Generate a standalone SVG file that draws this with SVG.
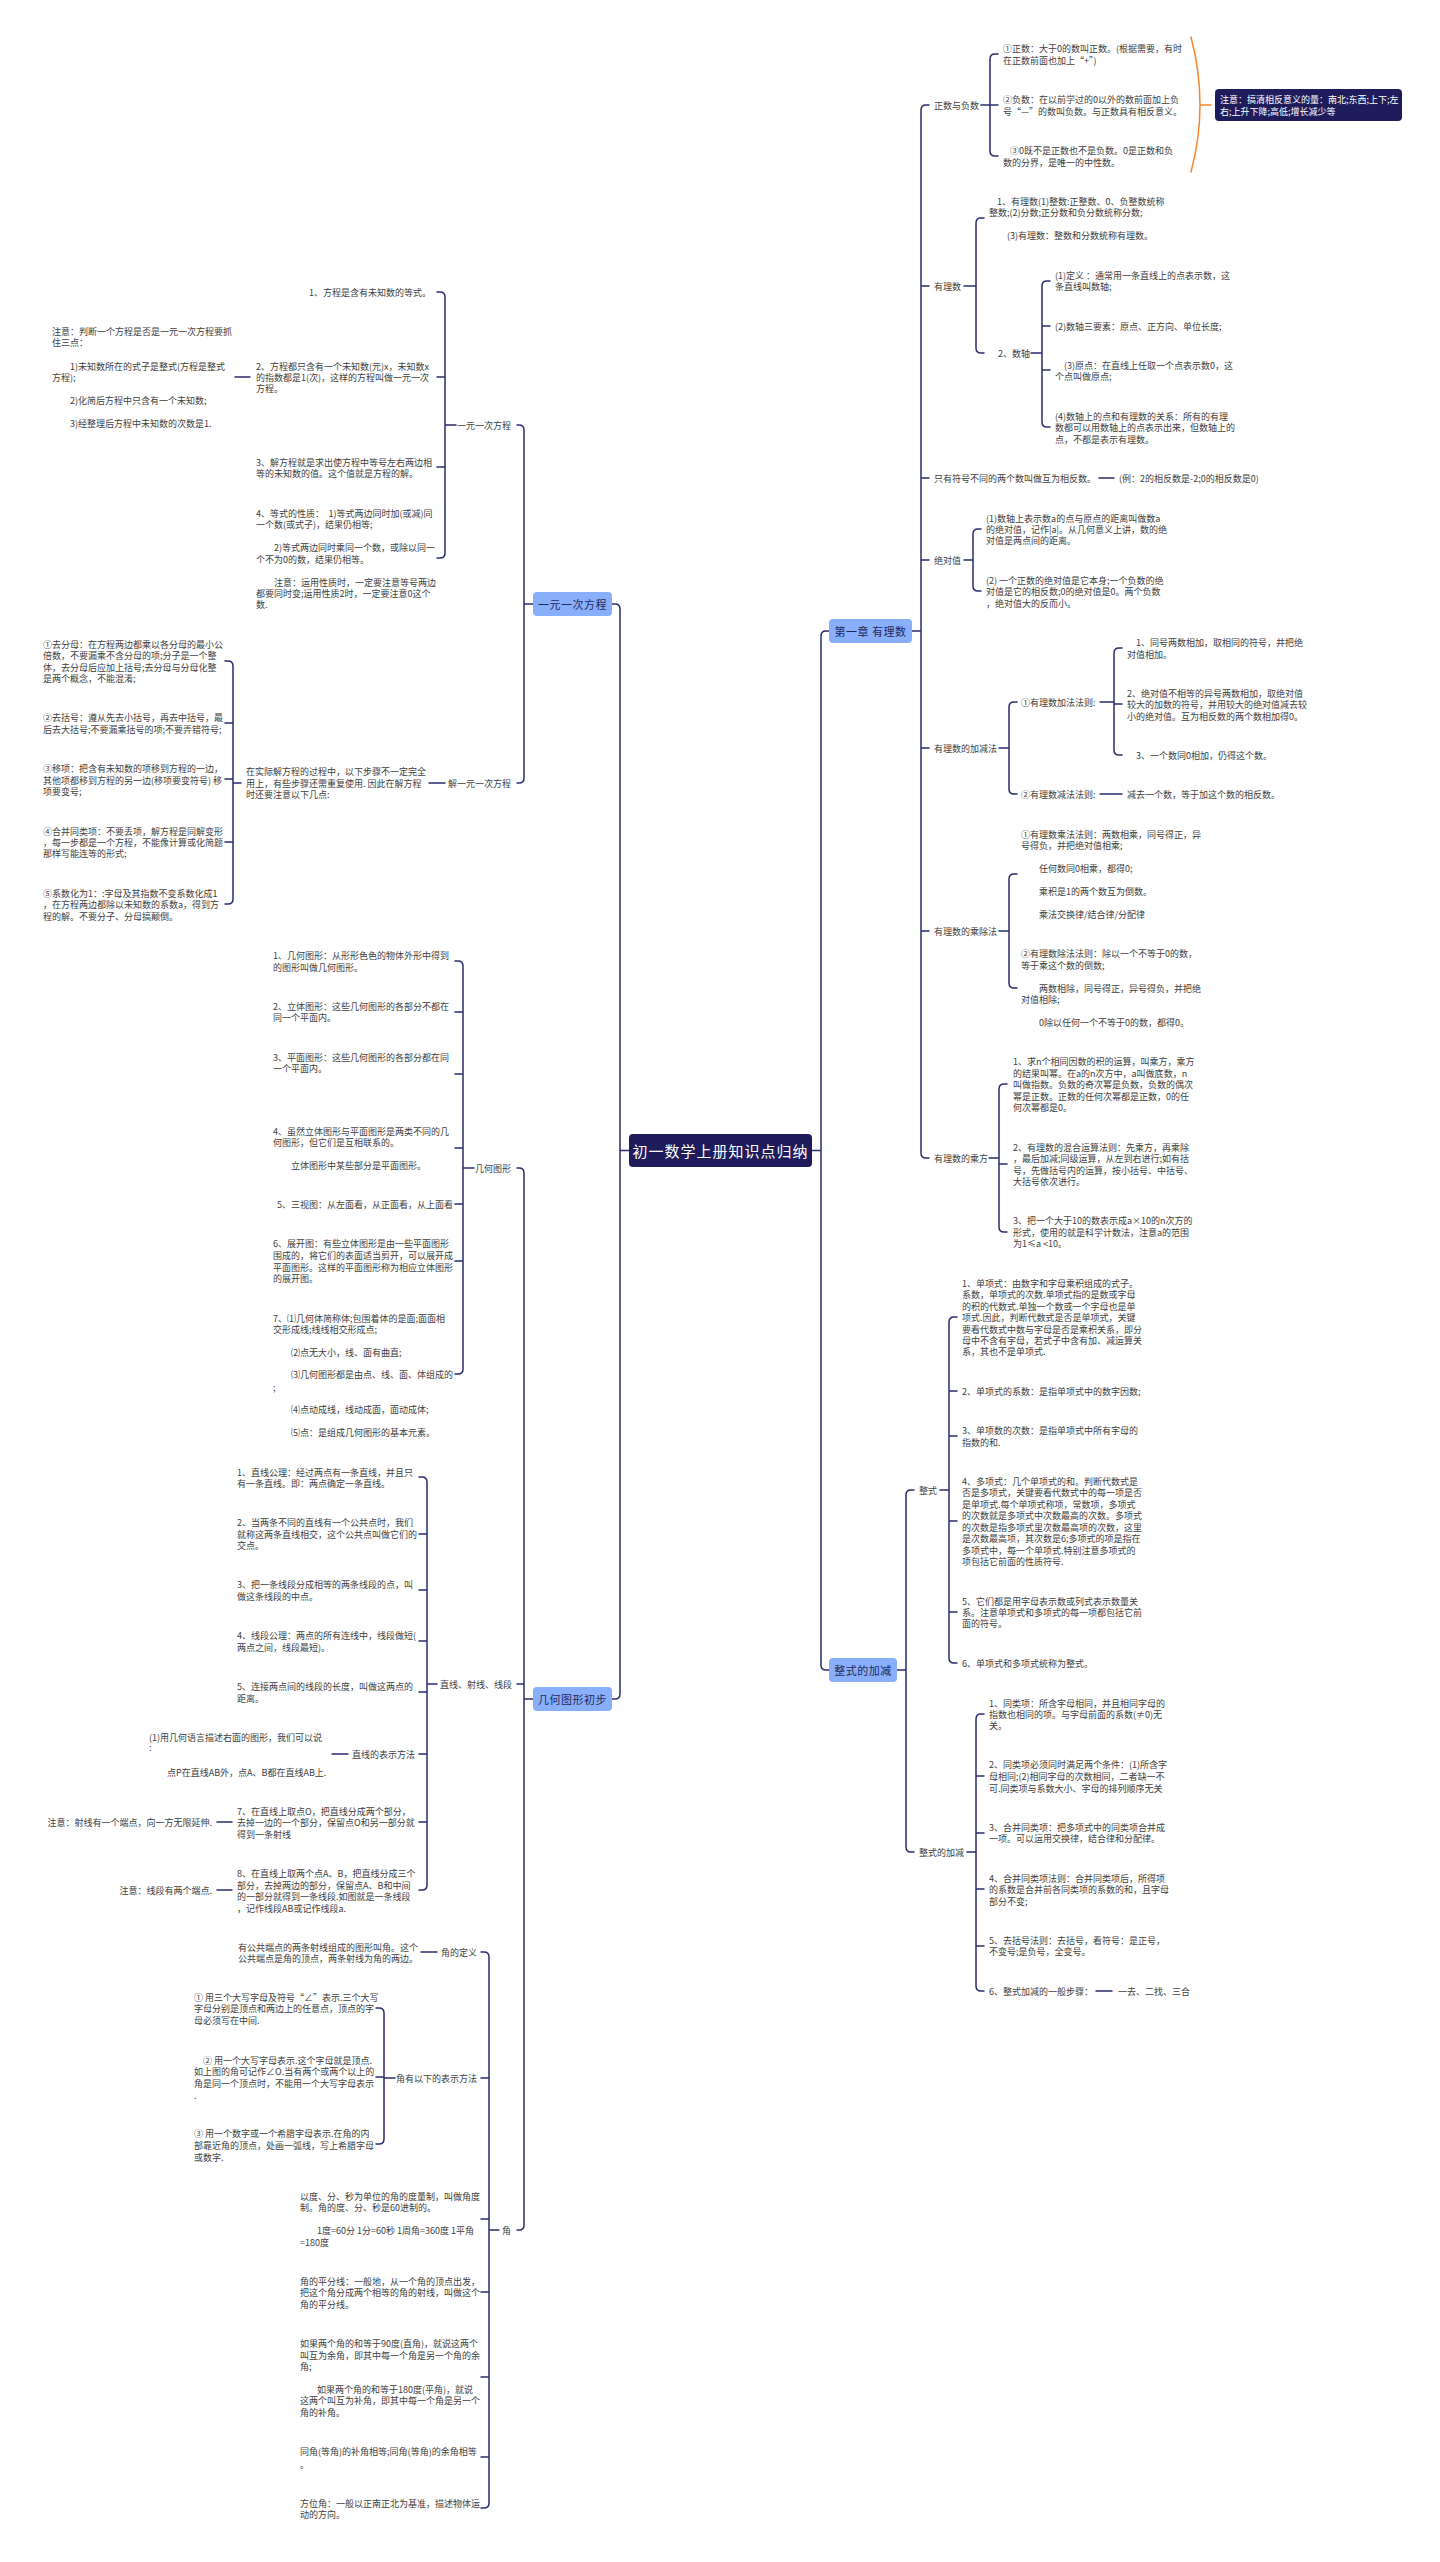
<svg xmlns="http://www.w3.org/2000/svg" width="1440" height="2562" viewBox="0 0 1440 2562">
<style>
text{font-family:"Noto Sans CJK SC","Noto Sans",sans-serif;dominant-baseline:central}
.t{font-size:9px;fill:#404040}
.e{text-anchor:end}
.l1{font-size:11px;fill:#1f2a5c;text-anchor:middle;letter-spacing:0.5px}
.c{font-size:15px;fill:#fff;text-anchor:middle;letter-spacing:1px}
.n{font-size:9px;fill:#fff}
.ln{fill:none;stroke:#2b2d6e;stroke-width:1.5;stroke-linecap:round}
.or{fill:none;stroke:#f5852e;stroke-width:1.5}
.b1{fill:#89aefa}
.b0{fill:#1f1c5c}
</style>
<rect width="1440" height="2562" fill="#fff"/>
<g id="connectors" class="ln">
<path d="M629,1150.5H620M612,604H615Q620,604 620,609V1694Q620,1699 615,1699H612"/>
<path d="M812,1150.5H821M829,631H826Q821,631 821,636V1665Q821,1670 826,1670H829"/>
<path d="M912,631H921M929,105H926Q921,105 921,110V1153Q921,1158 926,1158H929M921,286H929M921,478H929M921,560H929M921,748H929M921,931H929"/>
<path d="M981,105H990M998,54H995Q990,54 990,59V151Q990,156 995,156H998M990,105H998"/>
<path d="M964,286H976M984,218H981Q976,218 976,223V348Q976,353 981,353H984"/>
<path d="M1031,353H1042M1050,281H1047Q1042,281 1042,286V422Q1042,427 1047,427H1050M1042,326H1050M1042,370H1050"/>
<path d="M1099,478H1114"/>
<path d="M964,560H973M981,529H978Q973,529 973,534V586Q973,591 978,591H981"/>
<path d="M999,748H1009M1017,702H1014Q1009,702 1009,707V789Q1009,794 1014,794H1017"/>
<path d="M1100,702H1114M1122,648H1119Q1114,648 1114,653V750Q1114,755 1119,755H1122M1114,704H1122M1100,794H1122"/>
<path d="M999,931H1009M1017,874H1014Q1009,874 1009,879V983Q1009,988 1014,988H1017"/>
<path d="M989,1158H999M1007,1084H1004Q999,1084 999,1089V1227Q999,1232 1004,1232H1007M999,1164H1007"/>
<path d="M897,1670H906M914,1490H911Q906,1490 906,1495V1847Q906,1852 911,1852H914"/>
<path d="M940,1490H949M957,1317H954Q949,1317 949,1322V1658Q949,1663 954,1663H957M949,1391H957M949,1436H957M949,1521H957M949,1612H957"/>
<path d="M967,1852H976M984,1714H981Q976,1714 976,1719V1986Q976,1991 981,1991H984M976,1776H984M976,1833H984M976,1889H984M976,1946H984M1096,1991H1112"/>
<path d="M524,604H533M517,425H519Q524,425 524,430V778Q524,783 519,783H517"/>
<path d="M456,425H445M437,292H440Q445,292 445,297V553Q445,558 440,558H437M445,377H437M445,467H437M250,377H235"/>
<path d="M445,783H429M241,783H233M225,661H228Q233,661 233,666V899Q233,904 228,904H225M233,723H225M233,779H225M233,842H225"/>
<path d="M524,1699H533M517,1168H519Q524,1168 524,1173V2225Q524,2230 519,2230H517M524,1684H517"/>
<path d="M474,1168H463M455,961H458Q463,961 463,966V1369Q463,1374 458,1374H455M463,1012H455M463,1074H455M463,1148H455M463,1204H455M463,1261H455"/>
<path d="M437,1684H427M419,1477H422Q427,1477 427,1482V1885Q427,1890 422,1890H419M427,1534H419M427,1590H419M427,1641H419M427,1692H419M427,1754H419M427,1822H419"/>
<path d="M348,1754H332M232,1822H217M232,1890H217"/>
<path d="M499,2230H489M481,1952H484Q489,1952 489,1957V2503Q489,2508 484,2508H481M489,2078H481M489,2219H481M489,2292H481M489,2377H481M489,2457H481"/>
<path d="M437,1952H421M395,2078H384M376,2008H379Q384,2008 384,2013V2139Q384,2144 379,2144H376M384,2077H376"/>
<path class="or" d="M1191,37Q1209,105 1191,172M1200,105H1211"/>
</g>

<g id="root"><rect class="b0" x="629" y="1134" width="183" height="33" rx="4"/><text class="c" x="720.5" y="1150.5">初一数学上册知识点归纳</text></g>

<g id="n-ch1"><rect class="b1" x="829" y="619" width="83" height="24" rx="4"/><text class="l1" x="870.5" y="631">第一章 有理数</text></g>
<g id="n-zsjj"><rect class="b1" x="829" y="1658" width="68" height="24" rx="4"/><text class="l1" x="863" y="1670">整式的加减</text></g>
<g id="n-yycfc"><rect class="b1" x="533" y="592" width="79" height="24" rx="4"/><text class="l1" x="572.5" y="604">一元一次方程</text></g>
<g id="n-jhtx"><rect class="b1" x="533" y="1687" width="79" height="24" rx="4"/><text class="l1" x="572.5" y="1699">几何图形初步</text></g>

<g id="n-zfs" class="t">
<text x="934" y="105">正数与负数</text>
<text><tspan x="1003" y="48">①正数：大于0的数叫正数。(根据需要，有时</tspan><tspan x="1003" y="60">在正数前面也加上“+”)</tspan></text>
<text><tspan x="1003" y="99">②负数：在以前学过的0以外的数前面加上负</tspan><tspan x="1003" y="111">号“—”的数叫负数。与正数具有相反意义。</tspan></text>
<text><tspan x="1010" y="150">③0既不是正数也不是负数。0是正数和负</tspan><tspan x="1003" y="162">数的分界，是唯一的中性数。</tspan></text>
</g>
<g id="n-note1"><rect class="b0" x="1215" y="89" width="187" height="32" rx="4"/><text class="n"><tspan x="1220" y="99">注意：搞清相反意义的量：南北;东西;上下;左</tspan><tspan x="1220" y="111">右;上升下降;高低;增长减少等</tspan></text></g>

<g id="n-yls" class="t">
<text x="934" y="286">有理数</text>
<text><tspan x="997" y="201">1、有理数(1)整数:正整数、0、负整数统称</tspan><tspan x="989" y="212">整数;(2)分数;正分数和负分数统称分数;</tspan><tspan x="1007" y="235">(3)有理数：整数和分数统称有理数。</tspan></text>
<text x="998" y="353">2、数轴</text>
<text><tspan x="1055" y="275">(1)定义 ：通常用一条直线上的点表示数，这</tspan><tspan x="1055" y="286">条直线叫数轴;</tspan></text>
<text x="1055" y="326">(2)数轴三要素：原点、正方向、单位长度;</text>
<text><tspan x="1064" y="365">(3)原点：在直线上任取一个点表示数0，这</tspan><tspan x="1055" y="376">个点叫做原点;</tspan></text>
<text><tspan x="1055" y="416">(4)数轴上的点和有理数的关系：所有的有理</tspan><tspan x="1055" y="427">数都可以用数轴上的点表示出来，但数轴上的</tspan><tspan x="1055" y="439">点，不都是表示有理数。</tspan></text>
</g>

<g id="n-xfs" class="t">
<text x="934" y="478">只有符号不同的两个数叫做互为相反数。</text>
<text x="1119" y="478">(例：2的相反数是-2;0的相反数是0)</text>
</g>

<g id="n-jdz" class="t">
<text x="934" y="560">绝对值</text>
<text><tspan x="986" y="518">(1)数轴上表示数a的点与原点的距离叫做数a</tspan><tspan x="986" y="529">的绝对值，记作|a|。从几何意义上讲，数的绝</tspan><tspan x="986" y="540">对值是两点间的距离。</tspan></text>
<text><tspan x="986" y="580">(2) 一个正数的绝对值是它本身;一个负数的绝</tspan><tspan x="986" y="591">对值是它的相反数;0的绝对值是0。两个负数</tspan><tspan x="986" y="603">，绝对值大的反而小。</tspan></text>
</g>

<g id="n-jjf" class="t">
<text x="934" y="748">有理数的加减法</text>
<text x="1021" y="702">①有理数加法法则:</text>
<text><tspan x="1136" y="642">1、同号两数相加，取相同的符号，并把绝</tspan><tspan x="1127" y="654">对值相加。</tspan></text>
<text><tspan x="1127" y="693">2、绝对值不相等的异号两数相加，取绝对值</tspan><tspan x="1127" y="704">较大的加数的符号，并用较大的绝对值减去较</tspan><tspan x="1127" y="716">小的绝对值。互为相反数的两个数相加得0。</tspan></text>
<text x="1136" y="755">3、一个数同0相加，仍得这个数。</text>
<text x="1021" y="794">②有理数减法法则:</text>
<text x="1127" y="794">减去一个数，等于加这个数的相反数。</text>
</g>

<g id="n-ccf" class="t">
<text x="934" y="931">有理数的乘除法</text>
<text><tspan x="1021" y="834">①有理数乘法法则：两数相乘，同号得正，异</tspan><tspan x="1021" y="845">号得负，并把绝对值相乘;</tspan><tspan x="1039" y="868">任何数同0相乘，都得0;</tspan><tspan x="1039" y="891">乘积是1的两个数互为倒数。</tspan><tspan x="1039" y="914">乘法交换律/结合律/分配律</tspan></text>
<text><tspan x="1021" y="953">②有理数除法法则：除以一个不等于0的数，</tspan><tspan x="1021" y="965">等于乘这个数的倒数;</tspan><tspan x="1039" y="988">两数相除，同号得正，异号得负，并把绝</tspan><tspan x="1021" y="999">对值相除;</tspan><tspan x="1039" y="1022">0除以任何一个不等于0的数，都得0。</tspan></text>
</g>

<g id="n-cf" class="t">
<text x="934" y="1158">有理数的乘方</text>
<text><tspan x="1013" y="1061">1、求n个相同因数的积的运算，叫乘方，乘方</tspan><tspan x="1013" y="1073">的结果叫幂。在a的n次方中，a叫做底数，n</tspan><tspan x="1013" y="1084">叫做指数。负数的奇次幂是负数，负数的偶次</tspan><tspan x="1013" y="1096">幂是正数。正数的任何次幂都是正数，0的任</tspan><tspan x="1013" y="1107">何次幂都是0。</tspan></text>
<text><tspan x="1013" y="1147">2、有理数的混合运算法则：先乘方，再乘除</tspan><tspan x="1013" y="1158">，最后加减;同级运算，从左到右进行;如有括</tspan><tspan x="1013" y="1170">号，先做括号内的运算，按小括号、中括号、</tspan><tspan x="1013" y="1181">大括号依次进行。</tspan></text>
<text><tspan x="1013" y="1220">3、把一个大于10的数表示成a×10的n次方的</tspan><tspan x="1013" y="1232">形式，使用的就是科学计数法，注意a的范围</tspan><tspan x="1013" y="1243">为1≤a &lt;10。</tspan></text>
</g>

<g id="n-zs" class="t">
<text x="919" y="1490">整式</text>
<text><tspan x="962" y="1283">1、单项式：由数字和字母乘积组成的式子。</tspan><tspan x="962" y="1294">系数，单项式的次数.单项式指的是数或字母</tspan><tspan x="962" y="1306">的积的代数式.单独一个数或一个字母也是单</tspan><tspan x="962" y="1317">项式.因此，判断代数式是否是单项式，关键</tspan><tspan x="962" y="1329">要看代数式中数与字母是否是乘积关系，即分</tspan><tspan x="962" y="1340">母中不含有字母，若式子中含有加、减运算关</tspan><tspan x="962" y="1351">系，其也不是单项式.</tspan></text>
<text x="962" y="1391">2、单项式的系数：是指单项式中的数字因数;</text>
<text><tspan x="962" y="1430">3、单项数的次数：是指单项式中所有字母的</tspan><tspan x="962" y="1442">指数的和.</tspan></text>
<text><tspan x="962" y="1481">4、多项式：几个单项式的和。判断代数式是</tspan><tspan x="962" y="1492">否是多项式，关键要看代数式中的每一项是否</tspan><tspan x="962" y="1504">是单项式.每个单项式称项，常数项，多项式</tspan><tspan x="962" y="1515">的次数就是多项式中次数最高的次数。多项式</tspan><tspan x="962" y="1527">的次数是指多项式里次数最高项的次数，这里</tspan><tspan x="962" y="1538">是次数最高项，其次数是6;多项式的项是指在</tspan><tspan x="962" y="1550">多项式中，每一个单项式.特别注意多项式的</tspan><tspan x="962" y="1561">项包括它前面的性质符号.</tspan></text>
<text><tspan x="962" y="1601">5、它们都是用字母表示数或列式表示数量关</tspan><tspan x="962" y="1612">系。注意单项式和多项式的每一项都包括它前</tspan><tspan x="962" y="1623">面的符号。</tspan></text>
<text x="962" y="1663">6、单项式和多项式统称为整式。</text>
</g>

<g id="n-zsjj2" class="t">
<text x="919" y="1852">整式的加减</text>
<text><tspan x="989" y="1703">1、同类项：所含字母相同，并且相同字母的</tspan><tspan x="989" y="1714">指数也相同的项。与字母前面的系数(≠0)无</tspan><tspan x="989" y="1725">关。</tspan></text>
<text><tspan x="989" y="1764">2、同类项必须同时满足两个条件：(1)所含字</tspan><tspan x="989" y="1776">母相同;(2)相同字母的次数相同，二者缺一不</tspan><tspan x="989" y="1788">可.同类项与系数大小、字母的排列顺序无关</tspan></text>
<text><tspan x="989" y="1827">3、合并同类项：把多项式中的同类项合并成</tspan><tspan x="989" y="1838">一项。可以运用交换律，结合律和分配律。</tspan></text>
<text><tspan x="989" y="1878">4、合并同类项法则：合并同类项后，所得项</tspan><tspan x="989" y="1889">的系数是合并前各同类项的系数的和，且字母</tspan><tspan x="989" y="1901">部分不变;</tspan></text>
<text><tspan x="989" y="1940">5、去括号法则：去括号，看符号：是正号，</tspan><tspan x="989" y="1951">不变号;是负号，全变号。</tspan></text>
<text x="989" y="1991">6、整式加减的一般步骤：</text>
<text x="1118" y="1991">一去、二找、三合</text>
</g>

<g id="n-fc" class="t">
<text class="e" x="511" y="425">一元一次方程</text>
<text class="e" x="431" y="292">1、方程是含有未知数的等式。</text>
<text><tspan x="256" y="366">2、方程都只含有一个未知数(元)x，未知数x</tspan><tspan x="256" y="377">的指数都是1(次)，这样的方程叫做一元一次</tspan><tspan x="256" y="388">方程。</tspan></text>
<text><tspan x="52" y="331">注意：判断一个方程是否是一元一次方程要抓</tspan><tspan x="52" y="342">住三点：</tspan><tspan x="70" y="366">1)未知数所在的式子是整式(方程是整式</tspan><tspan x="52" y="377">方程);</tspan><tspan x="70" y="400">2)化简后方程中只含有一个未知数;</tspan><tspan x="70" y="423">3)经整理后方程中未知数的次数是1.</tspan></text>
<text><tspan x="256" y="462">3、解方程就是求出使方程中等号左右两边相</tspan><tspan x="256" y="473">等的未知数的值。这个值就是方程的解。</tspan></text>
<text><tspan x="256" y="513">4、等式的性质：　1)等式两边同时加(或减)同</tspan><tspan x="256" y="524">一个数(或式子)，结果仍相等;</tspan><tspan x="274" y="547">2)等式两边同时乘同一个数，或除以同一</tspan><tspan x="256" y="559">个不为0的数，结果仍相等。</tspan><tspan x="274" y="582">注意：运用性质时，一定要注意等号两边</tspan><tspan x="256" y="593">都要同时变;运用性质2时，一定要注意0这个</tspan><tspan x="256" y="604">数.</tspan></text>
</g>

<g id="n-jfc" class="t">
<text class="e" x="511" y="783">解一元一次方程</text>
<text><tspan x="246" y="771">在实际解方程的过程中，以下步骤不一定完全</tspan><tspan x="246" y="783">用上，有些步骤还需重复使用. 因此在解方程</tspan><tspan x="246" y="794">时还要注意以下几点:</tspan></text>
<text><tspan x="43" y="644">①去分母：在方程两边都乘以各分母的最小公</tspan><tspan x="43" y="655">倍数，不要漏乘不含分母的项;分子是一个整</tspan><tspan x="43" y="667">体，去分母后应加上括号;去分母与分母化整</tspan><tspan x="43" y="678">是两个概念，不能混淆;</tspan></text>
<text><tspan x="43" y="717">②去括号：遵从先去小括号，再去中括号，最</tspan><tspan x="43" y="729">后去大括号;不要漏乘括号的项;不要弄错符号;</tspan></text>
<text><tspan x="43" y="768">③移项：把含有未知数的项移到方程的一边，</tspan><tspan x="43" y="780">其他项都移到方程的另一边(移项要变符号) 移</tspan><tspan x="43" y="791">项要变号;</tspan></text>
<text><tspan x="43" y="831">④合并同类项：不要丢项，解方程是同解变形</tspan><tspan x="43" y="842">，每一步都是一个方程，不能像计算或化简题</tspan><tspan x="43" y="853">那样写能连等的形式;</tspan></text>
<text><tspan x="43" y="893">⑤系数化为1：:字母及其指数不变系数化成1</tspan><tspan x="43" y="904">，在方程两边都除以未知数的系数a，得到方</tspan><tspan x="43" y="916">程的解。不要分子、分母搞颠倒。</tspan></text>
</g>

<g id="n-jhtx2" class="t">
<text class="e" x="511" y="1168">几何图形</text>
<text><tspan x="273" y="955">1、几何图形：从形形色色的物体外形中得到</tspan><tspan x="273" y="967">的图形叫做几何图形。</tspan></text>
<text><tspan x="273" y="1006">2、立体图形：这些几何图形的各部分不都在</tspan><tspan x="273" y="1017">同一个平面内。</tspan></text>
<text><tspan x="273" y="1057">3、平面图形：这些几何图形的各部分都在同</tspan><tspan x="273" y="1068">一个平面内。</tspan></text>
<text><tspan x="273" y="1131">4、虽然立体图形与平面图形是两类不同的几</tspan><tspan x="273" y="1142">何图形，但它们是互相联系的。</tspan><tspan x="291" y="1165">立体图形中某些部分是平面图形。</tspan></text>
<text x="277" y="1204">5、三视图：从左面看，从正面看，从上面看</text>
<text><tspan x="273" y="1243">6、展开图：有些立体图形是由一些平面图形</tspan><tspan x="273" y="1255">围成的，将它们的表面适当剪开，可以展开成</tspan><tspan x="273" y="1267">平面图形。这样的平面图形称为相应立体图形</tspan><tspan x="273" y="1278">的展开图。</tspan></text>
<text><tspan x="273" y="1318">7、⑴几何体简称体;包围着体的是面;面面相</tspan><tspan x="273" y="1329">交形成线;线线相交形成点;</tspan><tspan x="291" y="1352">⑵点无大小，线、面有曲直;</tspan><tspan x="291" y="1374">⑶几何图形都是由点、线、面、体组成的</tspan><tspan x="273" y="1387">;</tspan><tspan x="291" y="1409">⑷点动成线，线动成面，面动成体;</tspan><tspan x="291" y="1432">⑸点：是组成几何图形的基本元素。</tspan></text>
</g>

<g id="n-zx" class="t">
<text class="e" x="512" y="1684">直线、射线、线段</text>
<text><tspan x="237" y="1472">1、直线公理：经过两点有一条直线，并且只</tspan><tspan x="237" y="1483">有一条直线。即：两点确定一条直线。</tspan></text>
<text><tspan x="237" y="1522">2、当两条不同的直线有一个公共点时，我们</tspan><tspan x="237" y="1534">就称这两条直线相交，这个公共点叫做它们的</tspan><tspan x="237" y="1545">交点。</tspan></text>
<text><tspan x="237" y="1584">3、把一条线段分成相等的两条线段的点，叫</tspan><tspan x="237" y="1596">做这条线段的中点。</tspan></text>
<text><tspan x="237" y="1635">4、线段公理：两点的所有连线中，线段做短(</tspan><tspan x="237" y="1647">两点之间，线段最短)。</tspan></text>
<text><tspan x="237" y="1686">5、连接两点间的线段的长度，叫做这两点的</tspan><tspan x="237" y="1698">距离。</tspan></text>
<text class="e" x="415" y="1754">直线的表示方法</text>
<text><tspan x="149" y="1737">(1)用几何语言描述右面的图形，我们可以说</tspan><tspan x="149" y="1747">:</tspan><tspan x="167" y="1772">点P在直线AB外，点A、B都在直线AB上.</tspan></text>
<text><tspan x="237" y="1811">7、在直线上取点O，把直线分成两个部分，</tspan><tspan x="237" y="1822">去掉一边的一个部分，保留点O和另一部分就</tspan><tspan x="237" y="1834">得到一条射线</tspan></text>
<text class="e" x="212" y="1822">注意：射线有一个端点，向一方无限延伸.</text>
<text><tspan x="237" y="1873">8、在直线上取两个点A、B，把直线分成三个</tspan><tspan x="237" y="1885">部分，去掉两边的部分，保留点A、B和中间</tspan><tspan x="237" y="1896">的一部分就得到一条线段.如图就是一条线段</tspan><tspan x="237" y="1908">，记作线段AB或记作线段a.</tspan></text>
<text class="e" x="212" y="1890">注意：线段有两个端点.</text>
</g>

<g id="n-jiao" class="t">
<text class="e" x="511" y="2230">角</text>
<text class="e" x="477" y="1952">角的定义</text>
<text><tspan x="238" y="1947">有公共端点的两条射线组成的图形叫角。这个</tspan><tspan x="238" y="1958">公共端点是角的顶点，两条射线为角的两边。</tspan></text>
<text class="e" x="477" y="2078">角有以下的表示方法</text>
<text><tspan x="194" y="1997">① 用三个大写字母及符号“∠”表示.三个大写</tspan><tspan x="194" y="2008">字母分别是顶点和两边上的任意点，顶点的字</tspan><tspan x="194" y="2020">母必须写在中间.</tspan></text>
<text><tspan x="203" y="2060">② 用一个大写字母表示.这个字母就是顶点.</tspan><tspan x="194" y="2071">如上图的角可记作∠O.当有两个或两个以上的</tspan><tspan x="194" y="2083">角是同一个顶点时，不能用一个大写字母表示</tspan><tspan x="194" y="2095">.</tspan></text>
<text><tspan x="194" y="2133">③ 用一个数字或一个希腊字母表示.在角的内</tspan><tspan x="194" y="2145">部靠近角的顶点，处画一弧线，写上希腊字母</tspan><tspan x="194" y="2157">或数字.</tspan></text>
<text><tspan x="300" y="2196">以度、分、秒为单位的角的度量制，叫做角度</tspan><tspan x="300" y="2207">制。角的度、分、秒是60进制的。</tspan><tspan x="317" y="2230">1度=60分 1分=60秒 1周角=360度 1平角</tspan><tspan x="300" y="2242">=180度</tspan></text>
<text><tspan x="300" y="2281">角的平分线：一般地，从一个角的顶点出发，</tspan><tspan x="300" y="2292">把这个角分成两个相等的角的射线，叫做这个</tspan><tspan x="300" y="2304">角的平分线。</tspan></text>
<text><tspan x="300" y="2343">如果两个角的和等于90度(直角)，就说这两个</tspan><tspan x="300" y="2355">叫互为余角，即其中每一个角是另一个角的余</tspan><tspan x="300" y="2366">角;</tspan><tspan x="317" y="2389">如果两个角的和等于180度(平角)，就说</tspan><tspan x="300" y="2400">这两个叫互为补角，即其中每一个角是另一个</tspan><tspan x="300" y="2412">角的补角。</tspan></text>
<text><tspan x="300" y="2451">同角(等角)的补角相等;同角(等角)的余角相等</tspan><tspan x="300" y="2464">。</tspan></text>
<text><tspan x="300" y="2503">方位角：一般以正南正北为基准，描述物体运</tspan><tspan x="300" y="2514">动的方向。</tspan></text>
</g>
</svg>
